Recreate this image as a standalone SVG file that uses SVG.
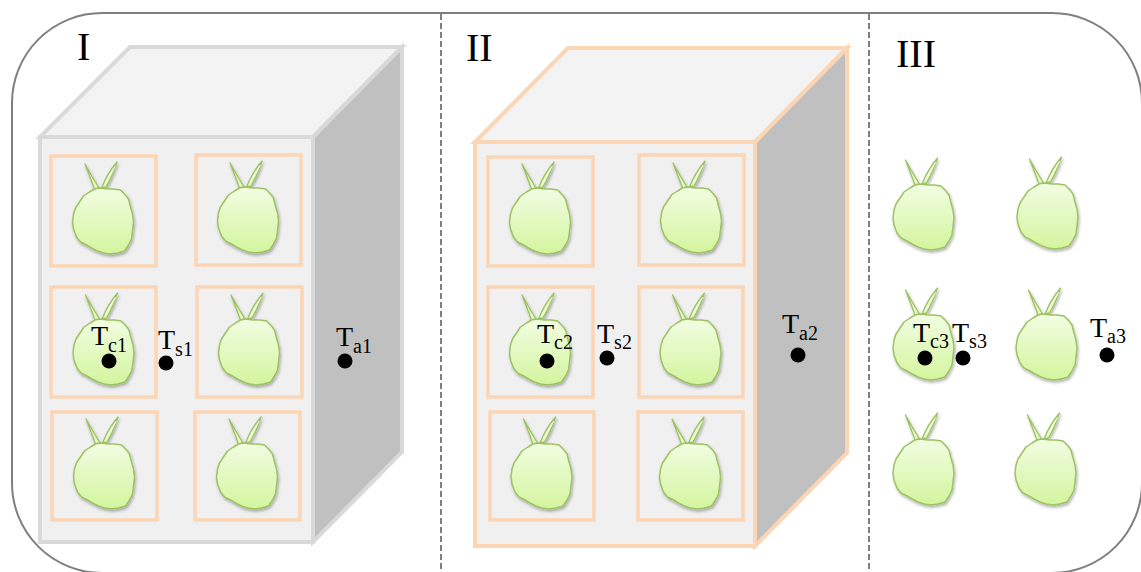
<svg xmlns="http://www.w3.org/2000/svg" xmlns:xlink="http://www.w3.org/1999/xlink" width="1141" height="572" viewBox="0 0 1141 572">
  <style>
    .frame { fill: #ffffff; stroke: #7f7f7f; stroke-width: 2; }
    .divider { stroke: #7f7f7f; stroke-width: 2; stroke-dasharray: 6 3; fill: none; }
    .roman { font-family: "Liberation Serif", "Times New Roman", serif; font-size: 40px; fill: #000000; }
    .lbl { font-family: "Liberation Serif", "Times New Roman", serif; font-size: 28px; fill: #000000; }
    .sub { font-size: 20px; }
    .dot { fill: #000000; }
    .box-gray { stroke: #d9d9d9; stroke-width: 4; stroke-linejoin: miter; }
    .box-peach { stroke: #fcd5b4; stroke-width: 4; stroke-linejoin: miter; }
    .front { fill: #f0f0f0; }
    .top { fill: #f3f3f3; }
    .side { fill: #c0c0c0; }
    .cell { fill: none; stroke: #fcd5b4; stroke-width: 3.5; }
    .fruit-body { fill: url(#fruitFill); stroke: #9dc263; stroke-width: 1.5; stroke-linejoin: round; }
    .leaf { fill: #e4f9c4; stroke: #9dc263; stroke-width: 1.3; stroke-linejoin: round; }
    .vein { fill: none; stroke: #ffffff; stroke-width: 0.9; opacity: 0.8; }
  </style>
  <defs>
    <linearGradient id="fruitFill" x1="0" y1="0" x2="0" y2="1">
      <stop offset="0" stop-color="#f1fde2"/>
      <stop offset="1" stop-color="#d4f59e"/>
    </linearGradient>
    <filter id="softShadow" x="-30%" y="-30%" width="160%" height="160%">
      <feDropShadow dx="1" dy="2" stdDeviation="1.5" flood-color="#000000" flood-opacity="0.3"/>
    </filter>
    <!-- fruit with two narrow leaves, centred on its cell -->
    <g id="fruit" filter="url(#softShadow)">
      <path class="leaf" d="M-18.5,-47 Q-13,-33 -9,-22 L-4.5,-23 Q-12,-35 -18.5,-47 Z"/>
      <path class="leaf" d="M13.5,-49 Q4,-38 -2,-23 L2.5,-24 Q9,-35 13.5,-49 Z"/>
      <path class="vein" d="M12,-45 Q7,-36 2,-28"/>
      <path class="fruit-body" d="M-4,-23 L4,-22 L10,-22 L17,-21 L22,-16 L25,-12 L27,-4 L29,3 L30,11 L29,20 L28,28 L25,34 L21,40 L14,42 L7,43 L0,42 L-6,40 L-12,37 L-17,34 L-23,31 L-27,26 L-30,18 L-31,11 L-30,3 L-28,-3 L-24,-9 L-20,-15 L-14,-19 L-9,-22 Z"/>
    </g>
  </defs>

  <!-- outer rounded frame -->
  <rect class="frame" x="12" y="13" width="1130" height="560" rx="90" ry="90"/>

  <!-- section dividers -->
  <g id="dividers">
    <line class="divider" x1="441" y1="14" x2="441" y2="572"/>
    <line class="divider" x1="869" y1="14" x2="869" y2="572"/>
  </g>

  <!-- section I: grey cabinet -->
  <g id="panel-I">
    <text class="roman" x="77" y="60">I</text>
    <g id="cabinet-I">
      <polygon class="top box-gray" points="40,137 130,47 402,47 313,137"/>
      <polygon class="side box-gray" points="313,137 402,47 402,452 313,542"/>
      <rect class="front box-gray" x="40" y="137" width="273" height="405"/>
    </g>
    <g id="cells-I">
      <rect class="cell" x="51" y="156" width="105" height="110"/>
      <rect class="cell" x="196" y="155" width="105" height="110"/>
      <rect class="cell" x="51" y="287" width="105" height="110"/>
      <rect class="cell" x="197" y="287" width="105" height="110"/>
      <rect class="cell" x="52" y="412" width="105" height="108"/>
      <rect class="cell" x="195" y="412" width="105" height="108"/>
    </g>
    <g id="fruits-I">
      <use xlink:href="#fruit" x="103.5" y="211"/>
      <use xlink:href="#fruit" x="248.5" y="210"/>
      <use xlink:href="#fruit" x="104" y="342"/>
      <use xlink:href="#fruit" x="249.5" y="342"/>
      <use xlink:href="#fruit" x="104.5" y="466"/>
      <use xlink:href="#fruit" x="247.5" y="466"/>
    </g>
    <g id="Tc1"><circle class="dot" cx="109" cy="361" r="7.5"/><text class="lbl" x="91" y="345">T<tspan class="sub" dy="7">c1</tspan></text></g>
    <g id="Ts1"><circle class="dot" cx="166" cy="363" r="7.5"/><text class="lbl" x="158" y="349">T<tspan class="sub" dy="7">s1</tspan></text></g>
    <g id="Ta1"><circle class="dot" cx="345" cy="361" r="7.5"/><text class="lbl" x="336" y="346">T<tspan class="sub" dy="7">a1</tspan></text></g>
  </g>

  <!-- section II: peach-edged cabinet -->
  <g id="panel-II">
    <text class="roman" x="466" y="61">II</text>
    <g id="cabinet-II">
      <polygon class="top box-peach" points="475,142 568,48 847,48 755,142"/>
      <polygon class="side box-peach" points="755,142 847,48 847,453 755,546"/>
      <rect class="front box-peach" x="475" y="142" width="280" height="404"/>
    </g>
    <g id="cells-II">
      <rect class="cell" x="488" y="157" width="105" height="109"/>
      <rect class="cell" x="639" y="155" width="105" height="110"/>
      <rect class="cell" x="488" y="287" width="105" height="110"/>
      <rect class="cell" x="639" y="287" width="104" height="110"/>
      <rect class="cell" x="490" y="412" width="104" height="108"/>
      <rect class="cell" x="638" y="412" width="105" height="108"/>
    </g>
    <g id="fruits-II">
      <use xlink:href="#fruit" x="540.5" y="211"/>
      <use xlink:href="#fruit" x="691.5" y="210"/>
      <use xlink:href="#fruit" x="540.5" y="342"/>
      <use xlink:href="#fruit" x="691" y="342"/>
      <use xlink:href="#fruit" x="542" y="466"/>
      <use xlink:href="#fruit" x="690.5" y="466"/>
    </g>
    <g id="Tc2"><circle class="dot" cx="547" cy="361" r="7.5"/><text class="lbl" x="537" y="343">T<tspan class="sub" dy="6">c2</tspan></text></g>
    <g id="Ts2"><circle class="dot" cx="607" cy="358" r="7.5"/><text class="lbl" x="597" y="343">T<tspan class="sub" dy="6">s2</tspan></text></g>
    <g id="Ta2"><circle class="dot" cx="798" cy="355" r="7.5"/><text class="lbl" x="782" y="333">T<tspan class="sub" dy="7">a2</tspan></text></g>
  </g>

  <!-- section III: loose fruit -->
  <g id="panel-III">
    <text class="roman" x="896" y="67">III</text>
    <g id="fruits-III">
      <use xlink:href="#fruit" x="924" y="207"/>
      <use xlink:href="#fruit" x="1048" y="206"/>
      <use xlink:href="#fruit" x="924" y="337"/>
      <use xlink:href="#fruit" x="1047" y="337"/>
      <use xlink:href="#fruit" x="924" y="462"/>
      <use xlink:href="#fruit" x="1046" y="462"/>
    </g>
    <g id="Tc3"><circle class="dot" cx="925" cy="358" r="7.5"/><text class="lbl" x="913" y="342">T<tspan class="sub" dy="6">c3</tspan></text></g>
    <g id="Ts3"><circle class="dot" cx="963" cy="358" r="7.5"/><text class="lbl" x="952" y="342">T<tspan class="sub" dy="6">s3</tspan></text></g>
    <g id="Ta3"><circle class="dot" cx="1107" cy="355" r="7.5"/><text class="lbl" x="1090" y="337">T<tspan class="sub" dy="6">a3</tspan></text></g>
  </g>
</svg>
